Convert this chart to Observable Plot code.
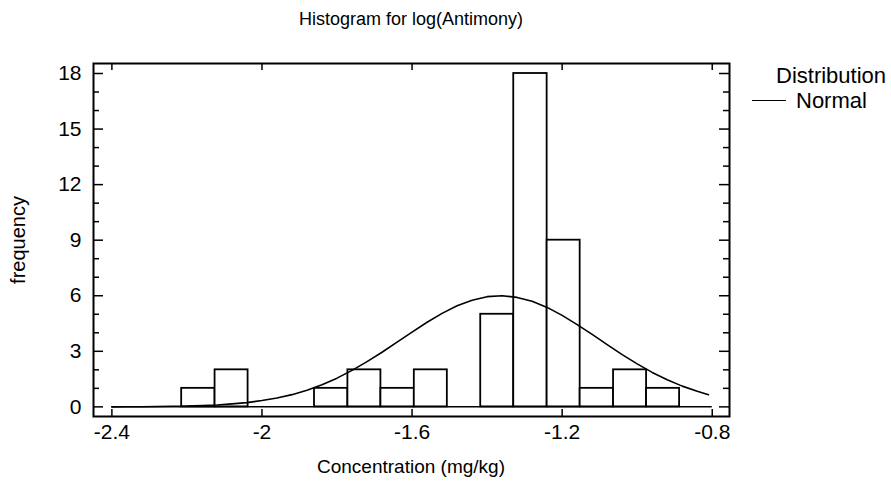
<!DOCTYPE html>
<html>
<head>
<meta charset="utf-8">
<script src="https://cdn.jsdelivr.net/npm/d3@7"></script>
<script src="https://cdn.jsdelivr.net/npm/@observablehq/plot@0.6"></script>
<style>
  html, body { margin: 0; padding: 0; background: #fff; }
  #wrap { position: relative; width: 891px; height: 487px; font-family: "Liberation Sans", Arial, sans-serif; color: #000; }
  .ov { position: absolute; white-space: nowrap; line-height: 1; }
  #wrap svg text { font-size: 21px !important; font-family: "Liberation Sans", Arial, sans-serif; fill: #000; }
</style>
</head>
<body>
<div id="wrap"></div>
<script>
// ---- data ----
const binEdges = [-2.214, -2.125, -2.037, -1.948, -1.860, -1.771, -1.683, -1.594, -1.506, -1.417, -1.329, -1.240, -1.152, -1.063, -0.975, -0.887];
const counts   = [1, 2, 0, 0, 1, 2, 1, 2, 0, 5, 18, 9, 1, 2, 1];

const curveX = [-2.40, -2.36, -2.32, -2.28, -2.24, -2.20, -2.16, -2.12, -2.08, -2.04, -2.00, -1.96, -1.92, -1.88, -1.84, -1.80, -1.76, -1.72, -1.68, -1.64, -1.60, -1.56, -1.52, -1.48, -1.44, -1.40, -1.36, -1.32, -1.28, -1.24, -1.20, -1.16, -1.12, -1.08, -1.04, -1.00, -0.96, -0.92, -0.88, -0.84, -0.81];
const curveY = [0.00, 0.01, 0.01, 0.02, 0.03, 0.04, 0.07, 0.10, 0.16, 0.23, 0.34, 0.48, 0.66, 0.90, 1.20, 1.55, 1.97, 2.44, 2.95, 3.50, 4.04, 4.57, 5.05, 5.46, 5.76, 5.95, 6.00, 5.91, 5.70, 5.37, 4.94, 4.44, 3.91, 3.36, 2.82, 2.32, 1.86, 1.46, 1.12, 0.84, 0.66];

const xTicks = [-2.4, -2.0, -1.6, -1.2, -0.8];
const yTicks = [0, 3, 6, 9, 12, 15, 18];
const yMinor = [1, 2, 4, 5, 7, 8, 10, 11, 13, 14, 16, 17];

const titleText = "Histogram for log(Antimony)";
const xLabel = "Concentration (mg/kg)";
const yLabel = "frequency";
const legendTitle = "Distribution";
const legendItem = "Normal";

// ---- tables ----
const bars = counts.map((c, i) => ({x1: binEdges[i], x2: binEdges[i + 1], y: c}));
const curve = curveX.map((x, i) => ({x, y: curveY[i]}));

const W = 891, H = 487;
const mL = 93, mR = 162, mT = 63, mB = 71;
const innerW = W - mL - mR, innerH = H - mT - mB;

const chart = Plot.plot({
  width: W,
  height: H,
  marginLeft: mL,
  marginRight: mR,
  marginTop: mT,
  marginBottom: mB,
  style: {fontFamily: '"Liberation Sans", Arial, sans-serif', fontSize: "21px", color: "#000", background: "#fff"},
  x: {domain: [-2.449, -0.754]},
  y: {domain: [-0.52, 18.54]},
  marks: [
    // baseline
    Plot.ruleY([0], {x1: xTicks[0], x2: xTicks[xTicks.length - 1], stroke: "#000", strokeWidth: 1.5}),
    // histogram bars
    Plot.rectY(bars.filter(d => d.y > 0), {x1: "x1", x2: "x2", y1: 0, y2: "y", fill: "#fff", stroke: "#000", strokeWidth: 1.8}),
    // normal curve
    Plot.line(curve, {x: "x", y: "y", stroke: "#000", strokeWidth: 1.6}),
    // frame
    Plot.frame({stroke: "#000", strokeWidth: 2}),
    // x ticks (inward, bottom and top)
    Plot.ruleX(xTicks, {x: d => d, insetTop: innerH - 7, stroke: "#000", strokeWidth: 1.5}),
    Plot.ruleX(xTicks, {x: d => d, insetBottom: innerH - 7, stroke: "#000", strokeWidth: 1.5}),
    // y major ticks (inward, left and right)
    Plot.ruleY(yTicks, {y: d => d, insetRight: innerW - 10, stroke: "#000", strokeWidth: 1.5}),
    Plot.ruleY(yTicks, {y: d => d, insetLeft: innerW - 10, stroke: "#000", strokeWidth: 1.5}),
    // y minor ticks
    Plot.ruleY(yMinor, {y: d => d, insetRight: innerW - 6, stroke: "#000", strokeWidth: 1.5}),
    Plot.ruleY(yMinor, {y: d => d, insetLeft: innerW - 6, stroke: "#000", strokeWidth: 1.5}),
    // tick labels
    Plot.axisX(xTicks, {tickSize: 0, tickPadding: 8, label: null, fontSize: 21, tickFormat: d => String(d)}),
    Plot.axisY(yTicks, {tickSize: 0, tickPadding: 12, label: null, fontSize: 21, tickFormat: d => String(d)})
  ]
});

const wrap = document.getElementById("wrap");
wrap.appendChild(chart);

function addText(txt, size, css) {
  const el = document.createElement("div");
  el.className = "ov";
  el.textContent = txt;
  el.style.fontSize = size + "px";
  Object.assign(el.style, css);
  wrap.appendChild(el);
  return el;
}
const cx = mL + innerW / 2;
addText(titleText, 18, {left: cx + "px", top: "10px", transform: "translateX(-50%)"});
addText(xLabel, 19, {left: cx + "px", top: "457px", transform: "translateX(-50%)"});
addText(yLabel, 20, {left: "18px", top: (mT + innerH / 2) + "px", transform: "translate(-50%, -50%) rotate(-90deg)"});
addText(legendTitle, 22, {left: "776px", top: "65px"});
addText(legendItem, 22, {left: "796px", top: "90px"});
const ln = document.createElement("div");
Object.assign(ln.style, {position: "absolute", left: "752px", top: "100px", width: "34px", height: "0", borderTop: "1.5px solid #000"});
wrap.appendChild(ln);
</script>
</body>
</html>
